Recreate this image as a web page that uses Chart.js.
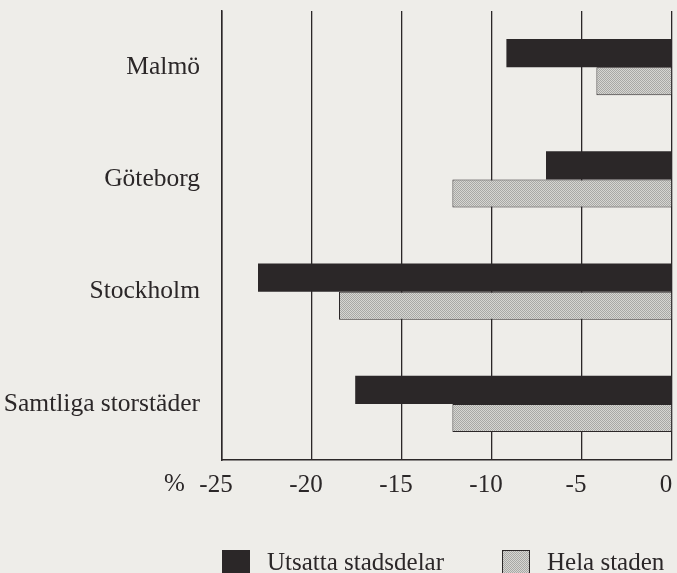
<!DOCTYPE html>
<html>
<head>
<meta charset="utf-8">
<script src="https://cdn.jsdelivr.net/npm/chart.js@4/dist/chart.umd.min.js"></script>
<style>
    html, body { margin: 0; padding: 0; background: #eeede9; }
    #wrap { width: 677px; height: 573px; position: relative; }
</style>
</head>
<body>
<div id="wrap"><canvas id="chart"></canvas></div>
<script>
// data
const cities = ['Malmö', 'Göteborg', 'Stockholm', 'Samtliga storstäder'];
const utsatta = [-9.2, -7.0, -23.0, -17.6];
const helaStaden = [-4.2, -12.2, -18.5, -12.2];
const seriesNames = ['Utsatta stadsdelar', 'Hela staden'];
const xTicks = [-25, -20, -15, -10, -5, 0];

const FONT = 'Liberation Serif, Times New Roman, serif';
const INK = '#2b2728';

// dotted grey fill like the print screen
function dotPattern() {
    const c = document.createElement('canvas');
    c.width = 2; c.height = 2;
    const g = c.getContext('2d');
    g.fillStyle = '#d6d6d2';
    g.fillRect(0, 0, 2, 2);
    g.fillStyle = '#a8a8a5';
    g.fillRect(0, 0, 1, 1);
    g.fillRect(1, 1, 1, 1);
    return g.createPattern(c, 'repeat');
}
const grey = dotPattern();

const extras = {
    id: 'extras',
    afterDraw(chart) {
        const ctx = chart.ctx;
        const area = chart.chartArea;
        ctx.save();
        ctx.font = '25px ' + FONT;
        ctx.fillStyle = INK;
        ctx.textBaseline = 'middle';
        // percent sign in front of the x ticks
        ctx.textAlign = 'left';
        ctx.fillText('%', area.left - 58, 484);

        // legend
        const items = [
            { x: area.left, fill: INK },
            { x: area.left + 280, fill: grey }
        ];
        items.forEach((it, i) => {
            ctx.fillStyle = it.fill;
            ctx.fillRect(it.x, 550, 28, 28);
            if (i === 1) {
                ctx.strokeStyle = INK;
                ctx.lineWidth = 1;
                ctx.strokeRect(it.x + 0.5, 550.5, 27, 27);
            }
            ctx.fillStyle = INK;
            ctx.fillText(seriesNames[i], it.x + 45, 563);
        });
        ctx.restore();
    }
};

new Chart(document.getElementById('chart'), {
    type: 'bar',
    data: {
        labels: cities,
        datasets: [{
            label: seriesNames[0],
            data: utsatta,
            backgroundColor: INK,
            borderColor: INK,
            borderWidth: 0
        }, {
            label: seriesNames[1],
            data: helaStaden,
            backgroundColor: grey,
            borderColor: INK,
            borderWidth: 1
        }]
    },
    options: {
        indexAxis: 'y',
        responsive: true,
        maintainAspectRatio: false,
        animation: false,
        layout: { padding: { top: 11, right: 5, left: 0, bottom: 0 } },
        datasets: {
            bar: { barPercentage: 1, categoryPercentage: 0.5 }
        },
        plugins: {
            legend: { display: false },
            tooltip: { enabled: false }
        },
        scales: {
            x: {
                min: -25,
                max: 0,
                afterBuildTicks: scale => { scale.ticks = xTicks.map(v => ({ value: v })); },
                afterFit: scale => {
                    scale.height = 113;
                    scale.paddingLeft = 0;
                    scale.paddingRight = 0;
                },
                grid: { color: INK, lineWidth: 1.3, drawTicks: false },
                border: { color: INK, width: 1.5 },
                ticks: {
                    color: INK,
                    padding: 10,
                    labelOffset: -6,
                    font: { family: FONT, size: 25 }
                }
            },
            y: {
                afterFit: scale => {
                    scale.width = 222;
                    scale.paddingTop = 0;
                    scale.paddingBottom = 0;
                },
                grid: { display: false, drawTicks: false },
                border: { color: INK, width: 1.5 },
                ticks: {
                    color: INK,
                    padding: 22,
                    font: { family: FONT, size: 25.5 }
                }
            }
        }
    },
    plugins: [extras]
});
</script>
</body>
</html>
